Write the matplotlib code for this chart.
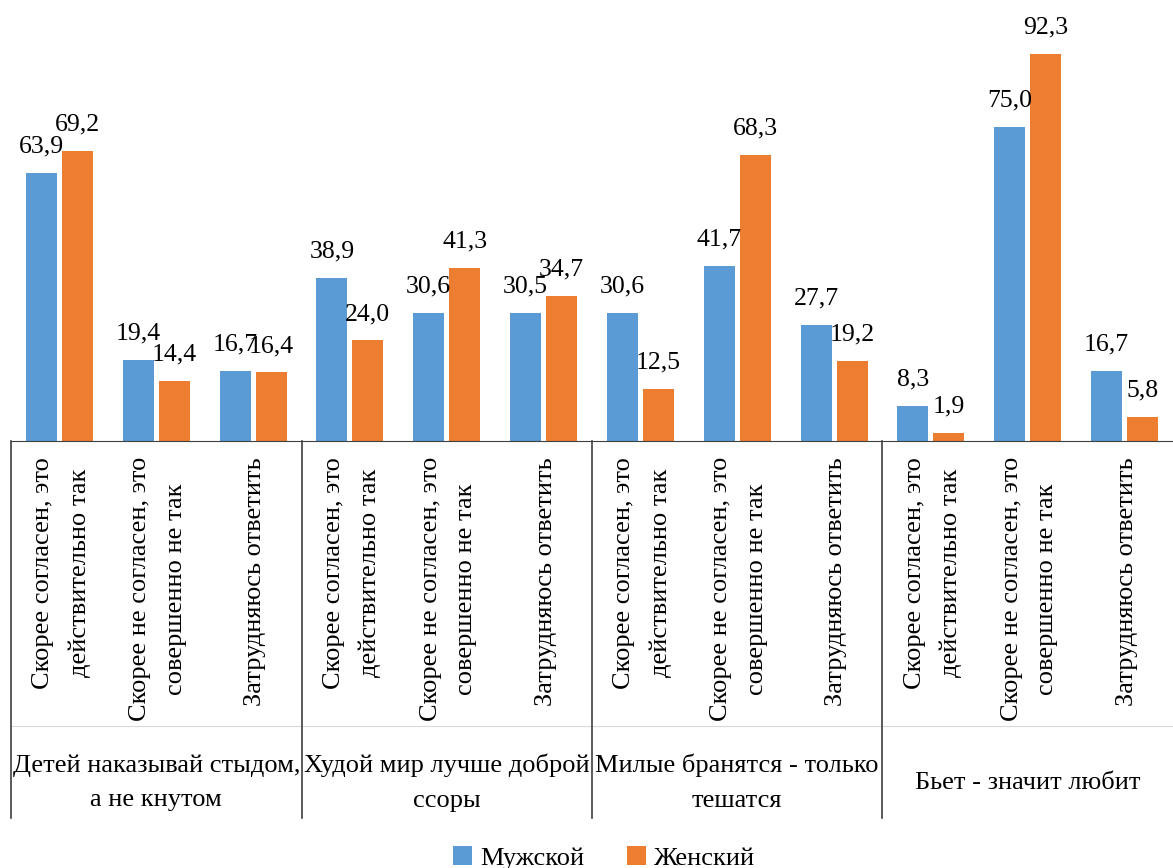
import numpy as np
import matplotlib.pyplot as plt

plt.rcParams['font.family'] = ['Liberation Serif', 'DejaVu Serif']

# answer categories (x axis, inner level)
answers = [
    'Скорее согласен, это\nдействительно так',
    'Скорее не согласен, это\nсовершенно не так',
    'Затрудняюсь ответить',
] * 4
# proverbs (x axis, outer level)
groups = [
    'Детей наказывай стыдом,\nа не кнутом',
    'Худой мир лучше доброй\nссоры',
    'Милые бранятся - только\nтешатся',
    'Бьет - значит любит',
]
male = [63.9, 19.4, 16.7, 38.9, 30.6, 30.5, 30.6, 41.7, 27.7, 8.3, 75.0, 16.7]
female = [69.2, 14.4, 16.4, 24.0, 41.3, 34.7, 12.5, 68.3, 19.2, 1.9, 92.3, 5.8]

blue = '#5b9bd5'
orange = '#ed7d31'

fig = plt.figure(figsize=(11.73, 8.68), dpi=100)
ax = fig.add_axes([11 / 1173, 427 / 868, 1 - 11 / 1173, 441 / 868])

x = np.arange(len(answers))
off, w = 0.186, 0.32
b1 = ax.bar(x - off, male, w, color=blue, label='Мужской')
b2 = ax.bar(x + off, female, w, color=orange, label='Женский')

for bars, vals in [(b1, male), (b2, female)]:
    for r, v in zip(bars, vals):
        ax.annotate(f'{v:.1f}'.replace('.', ','),
                    (r.get_x() + r.get_width() / 2, v),
                    xytext=(0, 11), textcoords='offset points',
                    ha='center', va='bottom', fontsize=18.5)

ax.set_xlim(-0.5, len(answers) - 0.5)
ax.set_ylim(0, 105.2)
for s in ['left', 'right', 'top']:
    ax.spines[s].set_visible(False)
ax.spines['bottom'].set_color('#404040')
ax.set_xticks([])
ax.set_yticks([])

tr = ax.get_xaxis_transform()
# category labels, rotated
for i, lab in enumerate(answers):
    ax.text(i + 0.02, -0.036, lab, transform=tr, rotation=90, ha='center',
            va='top', multialignment='center', fontsize=19, linespacing=1.8)

# faint line between levels
ax.plot([-0.5, 11.5], [-0.647, -0.647], transform=tr, clip_on=False,
        color='#d9d9d9', lw=0.8)

# group separators
for gx in [-0.5, 2.5, 5.5, 8.5]:
    ax.plot([gx, gx], [0, -0.855], transform=tr, clip_on=False,
            color='#404040', lw=1.2)

for g, lab in enumerate(groups):
    ax.text(g * 3 + 1, -0.775, lab, transform=tr, ha='center', va='center',
            multialignment='center', fontsize=19, linespacing=1.75)

fig.legend(handles=[b1, b2], loc='center', bbox_to_anchor=(0.515, 10 / 868),
           ncol=2, frameon=False, fontsize=19, handlelength=0.75,
           handleheight=0.75, handletextpad=0.3, columnspacing=1.6)

fig.savefig('out.png', dpi=100)
